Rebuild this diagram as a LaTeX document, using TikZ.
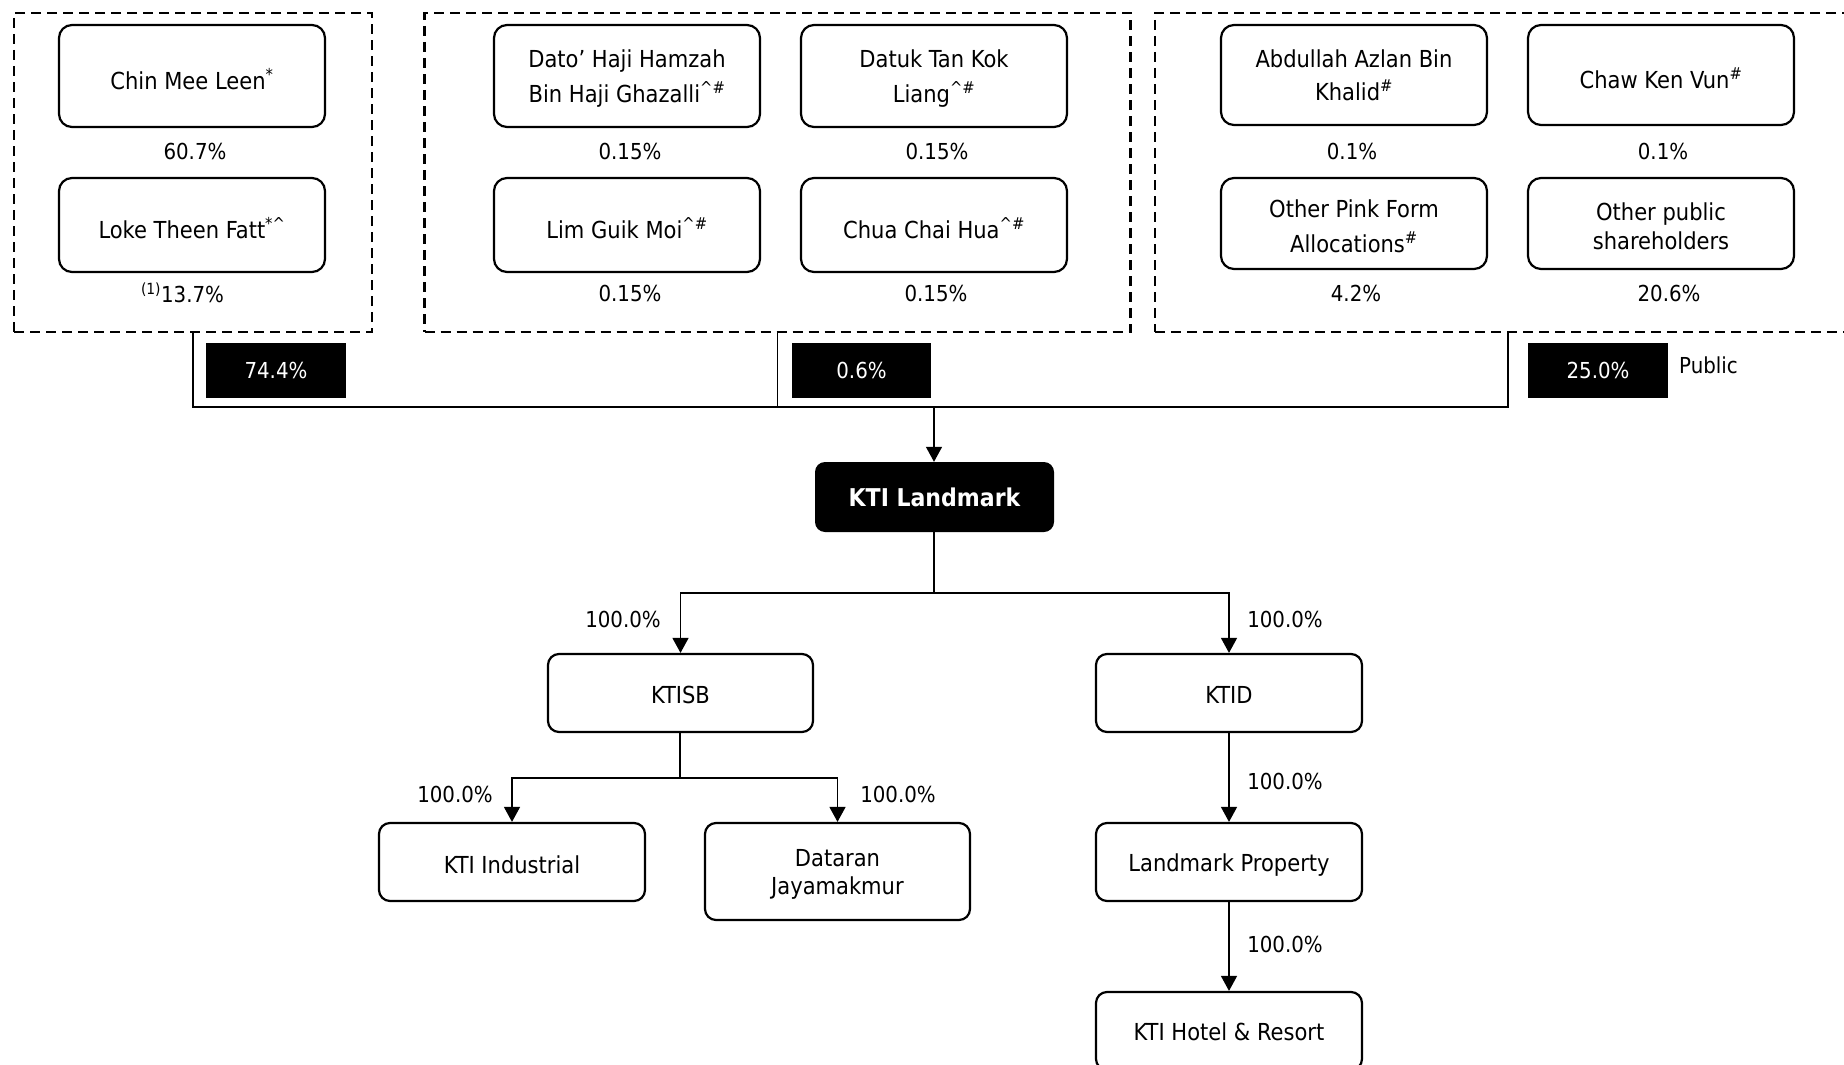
\documentclass[tikz,border=0pt]{standalone}
\usepackage{fontspec}
\setmainfont{DejaVu Sans Condensed}
\usetikzlibrary{arrows.meta}
\begin{document}
\begin{tikzpicture}[x=1pt,y=-1pt,
  font=\fontsize{22}{30}\selectfont,
  ent/.style={draw, line width=2.2pt, rounded corners=13pt, inner sep=0pt, minimum width=266pt},
  txt/.style={align=center, inner sep=0pt, yshift=-3pt, font=\fontsize{23.4}{30}\selectfont},
  grp/.style={draw, dash pattern=on 10pt off 6pt, line width=2.5pt, inner sep=0pt, minimum height=319pt},
  blk/.style={fill=black, text=white, inner sep=0pt, minimum width=140pt, minimum height=55pt},
  pct/.style={inner sep=0pt},
  conn/.style={line width=1.4pt},
  arr/.style={conn, -{Triangle[length=15pt,width=16pt]}},
]
\clip (0,0) rectangle (1844,1065);
\fill[white] (0,0) rectangle (1844,1065);

% groups
\node[grp, minimum width=358pt] (g1) at (193,172.5) {};
\node[grp, minimum width=706pt] (g2) at (777.5,172.5) {};
\node[grp, minimum width=749pt] (g3) at (1529.5,172.5) {};

% shareholders
\node[ent, minimum height=102pt, label={[txt, name=chin-t]center:{Chin Mee Leen\textsuperscript{*}}}] (chin) at (192,76) {};
\node[ent, minimum height=94pt, label={[txt, name=loke-t]center:{Loke Theen Fatt\textsuperscript{*\textasciicircum}}}] (loke) at (192,225) {};
\node[ent, minimum height=102pt, label={[txt, name=dato-t]center:{Dato’ Haji Hamzah\\[5pt]Bin Haji Ghazalli\textsuperscript{\textasciicircum\#}}}] (dato) at (627,76) {};
\node[ent, minimum height=102pt, label={[txt, name=datuk-t]center:{Datuk Tan Kok\\[5pt]Liang\textsuperscript{\textasciicircum\#}}}] (datuk) at (934,76) {};
\node[ent, minimum height=94pt, label={[txt, name=lim-t]center:{Lim Guik Moi\textsuperscript{\textasciicircum\#}}}] (lim) at (627,225) {};
\node[ent, minimum height=94pt, label={[txt, name=chua-t]center:{Chua Chai Hua\textsuperscript{\textasciicircum\#}}}] (chua) at (934,225) {};
\node[ent, minimum height=100pt, label={[txt, yshift=2.5pt, name=abd-t]center:{Abdullah Azlan Bin\\[3pt]Khalid\textsuperscript{\#}}}] (abd) at (1354,75) {};
\node[ent, minimum height=100pt, label={[txt, name=chaw-t]center:{Chaw Ken Vun\textsuperscript{\#}}}] (chaw) at (1661,75) {};
\node[ent, minimum height=91pt, label={[txt, name=pink-t]center:{Other Pink Form\\[5pt]Allocations\textsuperscript{\#}}}] (pink) at (1354,223.5) {};
\node[ent, minimum height=91pt, label={[txt, name=opub-t]center:{Other public\\[-1pt]shareholders}}] (opub) at (1661,223.5) {};

% percentages
\node[pct] (pchin) at (195,151) {60.7\%};
\node[pct] (ploke) at (182.5,293) {\textsuperscript{(1)}13.7\%};
\node[pct] (pdato) at (630,151) {0.15\%};
\node[pct] (pdatuk) at (937,151) {0.15\%};
\node[pct] (plim) at (630,293) {0.15\%};
\node[pct] (pchua) at (936,293) {0.15\%};
\node[pct] (pabd) at (1352,151) {0.1\%};
\node[pct] (pchaw) at (1663,151) {0.1\%};
\node[pct] (ppink) at (1356,293) {4.2\%};
\node[pct] (popub) at (1669,293) {20.6\%};

% black totals
\node[blk] (t1) at (276,370.5) {74.4\%};
\node[blk, minimum width=139pt] (t2) at (861.5,370.5) {0.6\%};
\node[blk] (t3) at (1598,370.5) {25.0\%};
\node[pct, anchor=west] (publ) at (1679,365) {Public};

% group connectors
\coordinate (j) at (934,407);
\coordinate (j3) at (1508,407);
\draw[conn] (g1.south) |- (j3) -- (g3.south -| j3);
\draw[conn] (g2.south) -- (g2.south |- j);

% KTI Landmark
\node[fill=black, rounded corners=10pt, text=white, inner sep=0pt, minimum width=239pt, minimum height=70pt, font=\fontsize{24.5}{30}\selectfont\bfseries] (kti) at (934.5,497) {KTI Landmark};
\draw[arr] (j) -- (kti.north -| j);

% subsidiaries
\node[ent, rounded corners=11pt, minimum height=78pt, minimum width=265pt, label={[txt, yshift=1pt, name=ktisb-t]center:KTISB}] (ktisb) at (680.5,693) {};
\node[ent, rounded corners=11pt, minimum height=78pt, label={[txt, yshift=1pt, name=ktid-t]center:KTID}] (ktid) at (1229,693) {};
\node[ent, rounded corners=11pt, minimum height=78pt, label={[txt, name=ind-t]center:KTI Industrial}] (ind) at (512,862) {};
\node[ent, rounded corners=11pt, minimum height=97pt, minimum width=265pt, label={[txt, name=dat-t]center:{Dataran\\[-2pt]Jayamakmur}}] (dat) at (837.5,871.5) {};
\node[ent, rounded corners=11pt, minimum height=78pt, label={[txt, name=lp-t]center:Landmark Property}] (lp) at (1229,862) {};
\node[ent, rounded corners=11pt, minimum height=78pt, label={[txt, yshift=2pt, name=hotel-t]center:{KTI Hotel \& Resort}}] (hotel) at (1229,1031) {};

\coordinate (b1) at (934,593);
\draw[conn] (kti.south -| b1) -- (b1);
\draw[arr] (b1) -| (ktisb.north);
\draw[arr] (b1) -| (ktid.north);

\coordinate (b2) at (680,778);
\draw[conn] (ktisb.south -| b2) -- (b2);
\draw[arr] (b2) -| (ind.north);
\draw[arr] (b2) -| (dat.north);

\draw[arr] (ktid) -- (lp);
\draw[arr] (lp) -- (hotel);

% ownership labels
\node[pct] (l1) at (623,619) {100.0\%};
\node[pct] (l2) at (1285,619) {100.0\%};
\node[pct] (l3) at (455,794) {100.0\%};
\node[pct] (l4) at (898,794) {100.0\%};
\node[pct] (l5) at (1285,781) {100.0\%};
\node[pct] (l6) at (1285,944) {100.0\%};
\end{tikzpicture}
\end{document}
